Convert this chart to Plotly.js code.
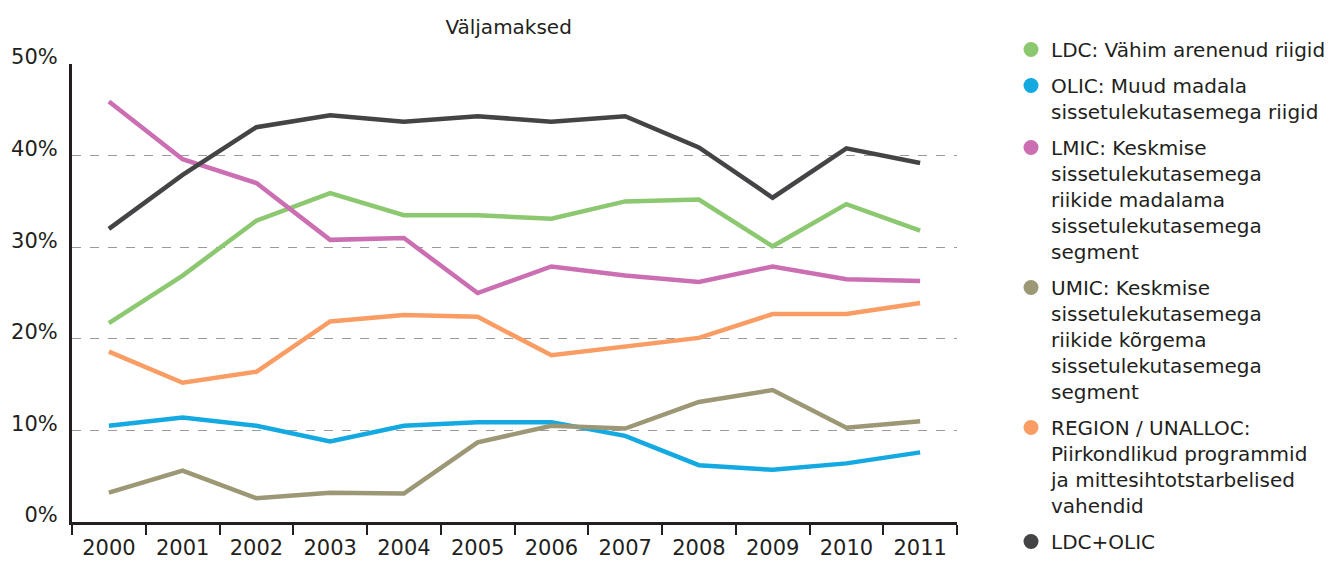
<!DOCTYPE html>
<html>
<head>
<meta charset="utf-8">
<script src="https://cdn.plot.ly/plotly-3.0.1.min.js"></script>
<style>html,body{margin:0;padding:0;background:#fff;}#chart{width:1335px;height:561px;}</style>
</head>
<body>
<div id="chart"></div>
<script>
const years = ["2000","2001","2002","2003","2004","2005","2006","2007","2008","2009","2010","2011"];
const ldc    = [21.7, 26.9, 32.9, 35.9, 33.5, 33.5, 33.1, 35.0, 35.2, 30.1, 34.7, 31.8];
const olic   = [10.5, 11.4, 10.5, 8.8, 10.5, 10.9, 10.9, 9.4, 6.2, 5.7, 6.4, 7.6];
const lmic   = [45.9, 39.6, 37.0, 30.8, 31.0, 25.0, 27.9, 26.9, 26.2, 27.9, 26.5, 26.3];
const umic   = [3.2, 5.6, 2.6, 3.2, 3.1, 8.7, 10.5, 10.2, 13.1, 14.4, 10.3, 11.0];
const region = [18.6, 15.2, 16.4, 21.9, 22.6, 22.4, 18.2, 19.2, 20.1, 22.7, 22.7, 23.9];
const ldcOlic= [32.0, 37.9, 43.1, 44.4, 43.7, 44.3, 43.7, 44.3, 40.9, 35.4, 40.8, 39.2];
const yTicks = [0, 10, 20, 30, 40, 50];
const yTickText = ["0%", "10%", "20%", "30%", "40%", "50%"];
const seriesNames = [
  "LDC: Vähim arenenud riigid",
  "OLIC: Muud madala<br>sissetulekutasemega riigid",
  "LMIC: Keskmise<br>sissetulekutasemega<br>riikide madalama<br>sissetulekutasemega<br>segment",
  "UMIC: Keskmise<br>sissetulekutasemega<br>riikide kõrgema<br>sissetulekutasemega<br>segment",
  "REGION / UNALLOC:<br>Piirkondlikud programmid<br>ja mittesihtotstarbelised<br>vahendid",
  "LDC+OLIC"
];
const seriesValues = [ldc, olic, lmic, umic, region, ldcOlic];
const seriesColors = ["#8cc870", "#14a9e1", "#cb6eb2", "#9c9774", "#f99d64", "#444446"];

const font = "'DejaVu Sans', sans-serif";
const textColor = "#231f20";

const lineTraces = seriesValues.map((vals, i) => ({
  type: "scatter",
  mode: "lines",
  x: years,
  y: vals,
  name: seriesNames[i],
  showlegend: false,
  line: {color: seriesColors[i], width: 4.5},
  hoverinfo: "x+y+name"
}));
const legendTraces = seriesNames.map((nm, i) => ({
  type: "scatter",
  mode: "markers",
  x: [years[0]],
  y: [null],
  name: nm,
  legendgroup: "g" + i,
  showlegend: true,
  marker: {color: seriesColors[i], size: 15, symbol: "circle"},
  hoverinfo: "skip"
}));

const H = 561;
const layout = {
  width: 1335,
  height: H,
  margin: {l: 72, r: 378, t: 0, b: 0},
  paper_bgcolor: "#ffffff",
  plot_bgcolor: "#ffffff",
  font: {family: font, color: textColor, size: 20},
  title: {text: "Väljamaksed", xref: "container", yref: "container", x: 0.381, xanchor: "center", y: 1 - 27 / H, yanchor: "middle", font: {size: 20, family: font, color: textColor}},
  showlegend: true,
  legend: {
    xref: "container", yref: "paper",
    x: 1011 / 1335, xanchor: "left", y: 1 - 41 / H, yanchor: "top",
    font: {size: 20, family: font, color: textColor},
    traceorder: "grouped", tracegroupgap: 7,
    valign: "top",
    itemsizing: "trace", itemwidth: 30,
    bgcolor: "rgba(0,0,0,0)"
  },
  xaxis: {
    type: "category",
    range: [-0.5, 11.5],
    automargin: false,
    showline: true, linecolor: textColor, linewidth: 2.5,
    ticks: "outside", tickson: "boundaries", ticklen: 10, tickwidth: 2, tickcolor: textColor,
    showgrid: false, zeroline: false,
    ticklabelstandoff: 5,
    tickfont: {size: 21, family: font, color: textColor},
    fixedrange: true
  },
  yaxis: {
    domain: [39 / H, 1 - 64 / H],
    range: [0, 50],
    automargin: false,
    tickvals: yTicks, ticktext: yTickText,
    showline: true, linecolor: textColor, linewidth: 3,
    ticks: "", showgrid: true, gridcolor: "#9a9a9a", gridwidth: 1, griddash: "dash",
    zeroline: false,
    ticklabelstandoff: 7, ticklabelshift: -7,
    tickfont: {size: 21, family: font, color: textColor},
    fixedrange: true
  }
};

Plotly.newPlot("chart", lineTraces.concat(legendTraces), layout, {displayModeBar: false, staticPlot: true});
</script>
</body>
</html>
